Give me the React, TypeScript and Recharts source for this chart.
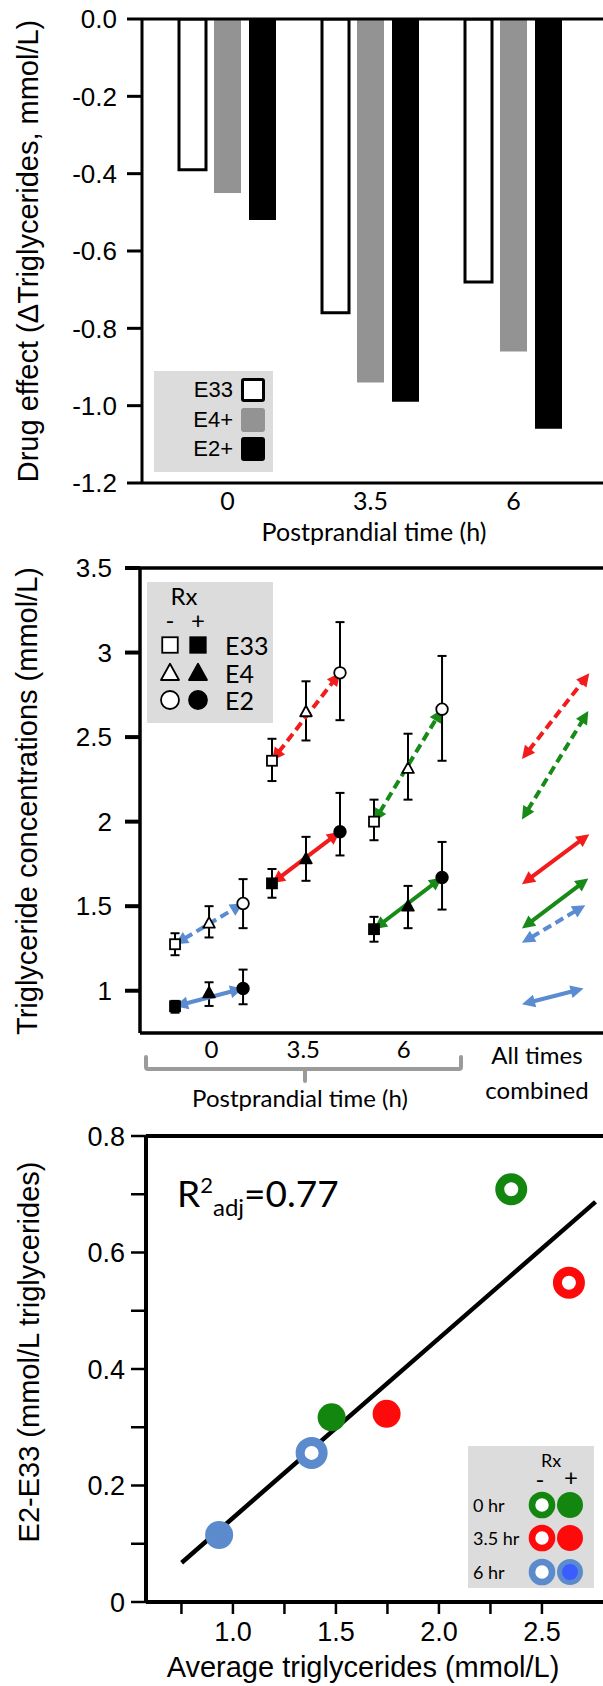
import React from "react";
import {
    BarChart,
    Bar,
    ScatterChart,
    Scatter,
    XAxis,
    YAxis,
    ReferenceLine,
    ErrorBar,
} from "recharts";

// fonts
const HELV = '"Liberation Sans", Arial, sans-serif';
const GILL = 'Lato, "Open Sans", sans-serif';

const RED = "#f31c1c";
const GREEN = "#178a17";
const BLUE = "#5b8bd0";

// ---------- panel 1: drug effect ----------
const timeLabels = ["0", "3.5", "6"];
const effectE33 = [-0.39, -0.76, -0.68];
const effectE4 = [-0.45, -0.94, -0.86];
const effectE2 = [-0.52, -0.99, -1.06];
const effectTicks = [0, -0.2, -0.4, -0.6, -0.8, -1.0, -1.2];

// ---------- panel 2: triglyceride concentrations ----------
const groupStartX = [1.03, 3.88, 6.88]; // x slot of E33 within each time group
const timeLabelX = [2.1, 4.8, 7.75];
const timeSepX = [3.57, 6.0, 9.38];
const tgTicks = [1, 1.5, 2, 2.5, 3, 3.5];
const timeColors = [BLUE, RED, GREEN];

const e33Minus = [1.275, 2.36, 2.0];
const e33MinusLo = [1.21, 2.24, 1.89];
const e33MinusHi = [1.34, 2.49, 2.13];
const e4Minus = [1.4, 2.65, 2.315];
const e4MinusLo = [1.315, 2.48, 2.13];
const e4MinusHi = [1.5, 2.83, 2.52];
const e2Minus = [1.516, 2.88, 2.665];
const e2MinusLo = [1.37, 2.6, 2.36];
const e2MinusHi = [1.66, 3.18, 2.98];

const e33Plus = [0.908, 1.635, 1.364];
const e33PlusLo = [0.87, 1.55, 1.29];
const e33PlusHi = [0.94, 1.72, 1.437];
const e4Plus = [0.987, 1.78, 1.5];
const e4PlusLo = [0.91, 1.65, 1.37];
const e4PlusHi = [1.05, 1.91, 1.62];
const e2Plus = [1.013, 1.94, 1.67];
const e2PlusLo = [0.92, 1.8, 1.48];
const e2PlusHi = [1.125, 2.17, 1.88];

// "All times combined" arrows
const combinedStartX = 11.23;
const combinedEndX = [13.21, 13.18, 13.21, 13.18, 13.09, 13.04];
const combinedFrom = [2.37, 2.013, 1.63, 1.368, 1.283, 0.92];
const combinedTo = [2.877, 2.654, 1.926, 1.664, 1.506, 1.013];
const combinedColor = [RED, GREEN, RED, GREEN, BLUE, BLUE];
const combinedDashed = [true, true, false, false, true, false];

// ---------- panel 3: E2-E33 vs average ----------
const avgTg = [2.351, 1.479, 2.631, 1.746, 1.382, 0.933];
const e2e33Diff = [0.7085, 0.317, 0.548, 0.323, 0.256, 0.115];
const pointTime = ["0 hr", "0 hr", "3.5 hr", "3.5 hr", "6 hr", "6 hr"];
const pointRx = ["-", "+", "-", "+", "-", "+"];
const fitX = [0.751, 2.76];
const fitY = [0.0675, 0.687];
const avgTicks = [0.75, 1, 1.25, 1.5, 1.75, 2, 2.25, 2.5];
const diffTicks = [0, 0.1, 0.2, 0.3, 0.4, 0.5, 0.6, 0.7, 0.8];

const panel3Colors: Record<string, string> = {"0 hr": "#12860f", "3.5 hr": "#ff0a0a", "6 hr": "#5b8bcc"};

// ---------- helpers ----------
const Txt = ({x, y, size, family = HELV, rotate = false, anchor = "middle", children, style}: any) => (
    <div
        style={{
            position: "absolute",
            left: x,
            top: y,
            fontSize: size,
            fontFamily: family,
            lineHeight: 1,
            whiteSpace: "nowrap",
            color: "#000",
            transform: `translate(${anchor === "start" ? "0" : anchor === "end" ? "-100%" : "-50%"}, -50%)${rotate ? " rotate(-90deg)" : ""}`,
            ...style,
        }}
    >
        {children}
    </div>
);

const arrowShape = (color: string, dashed: boolean) => (props: any) => {
    const {x1, y1, x2, y2} = props;
    const dx = x2 - x1;
    const dy = y2 - y1;
    const len = Math.hypot(dx, dy) || 1;
    const ux = dx / len;
    const uy = dy / len;
    const head = 13;
    const half = 6.5;
    const px = -uy;
    const py = ux;
    const b1x = x1 + ux * head, b1y = y1 + uy * head;
    const b2x = x2 - ux * head, b2y = y2 - uy * head;
    return (
        <g>
            <line x1={b1x - ux * 2} y1={b1y - uy * 2} x2={b2x + ux * 2} y2={b2y + uy * 2}
                  stroke={color} strokeWidth={4} strokeDasharray={dashed ? "9 5" : undefined}/>
            <polygon points={`${x1},${y1} ${b1x + px * half},${b1y + py * half} ${b1x - px * half},${b1y - py * half}`}
                     fill={color}/>
            <polygon points={`${x2},${y2} ${b2x + px * half},${b2y + py * half} ${b2x - px * half},${b2y - py * half}`}
                     fill={color}/>
        </g>
    );
};

const markerShape = (kind: string, filled: boolean, s = 1) => (props: any) => {
    const {cx, cy} = props;
    if (cx == null || cy == null) return <g/>;
    const fill = filled ? "#000" : "#fff";
    if (kind === "E33") {
        return <rect x={cx - 5 * s} y={cy - 5 * s} width={10 * s} height={10 * s} fill={fill} stroke="#000" strokeWidth={1.8}/>;
    }
    if (kind === "E4") {
        return (
            <polygon
                points={`${cx},${cy - 6 * s} ${cx + 5.8 * s},${cy + 4.5 * s} ${cx - 5.8 * s},${cy + 4.5 * s}`}
                fill={fill} stroke="#000" strokeWidth={1.8} strokeLinejoin="round"
            />
        );
    }
    return <circle cx={cx} cy={cy} r={5.8 * s} fill={fill} stroke="#000" strokeWidth={1.8}/>;
};

// ---------- panel 1 ----------
function EffectPanel() {
    const data = timeLabels.map((t, i) => ({time: t, e33: effectE33[i], e4: effectE4[i], e2: effectE2[i]}));
    return (
        <BarChart width={640} height={540} data={data} margin={{top: 19, right: 0, bottom: 55, left: 0}}
                  barSize={27} barGap={8}>
            <XAxis xAxisId="cat" dataKey="time" height={1} padding={{left: 14, right: 55}}
                   axisLine={{stroke: "#000", strokeWidth: 3}} tickLine={false} tickSize={0} tickMargin={9}
                   interval={0} tick={{fontFamily: GILL, fontSize: 25, fill: "#000"}}/>
            <XAxis xAxisId="sep" type="number" domain={[0, 3]} ticks={[1, 2]} allowDataOverflow height={1}
                   padding={{left: 14, right: 55}} axisLine={false} tick={false} tickSize={11}
                   tickLine={{stroke: "#000", strokeWidth: 3}}/>
            <YAxis domain={[-1.2, 0]} ticks={effectTicks} width={142} allowDataOverflow
                   axisLine={{stroke: "#000", strokeWidth: 3}} tickLine={{stroke: "#000", strokeWidth: 3}}
                   tickSize={15} tickMargin={10} tickFormatter={(v: number) => v.toFixed(1)}
                   tick={{fontFamily: HELV, fontSize: 26, fill: "#000"}}/>
            <ReferenceLine xAxisId="cat" y={0} stroke="#000" strokeWidth={3}/>
            <Bar xAxisId="cat" dataKey="e33" fill="#fff" stroke="#000" strokeWidth={3} isAnimationActive={false}/>
            <Bar xAxisId="cat" dataKey="e4" fill="#939393" isAnimationActive={false}/>
            <Bar xAxisId="cat" dataKey="e2" fill="#000" isAnimationActive={false}/>
        </BarChart>
    );
}

// ---------- panel 2 ----------
const tgSeries = [
    {kind: "E33", filled: false, offset: 0, mean: e33Minus, lo: e33MinusLo, hi: e33MinusHi},
    {kind: "E4", filled: false, offset: 1, mean: e4Minus, lo: e4MinusLo, hi: e4MinusHi},
    {kind: "E2", filled: false, offset: 2, mean: e2Minus, lo: e2MinusLo, hi: e2MinusHi},
    {kind: "E33", filled: true, offset: 0, mean: e33Plus, lo: e33PlusLo, hi: e33PlusHi},
    {kind: "E4", filled: true, offset: 1, mean: e4Plus, lo: e4PlusLo, hi: e4PlusHi},
    {kind: "E2", filled: true, offset: 2, mean: e2Plus, lo: e2PlusLo, hi: e2PlusHi},
];

function ConcentrationPanel() {
    return (
        <ScatterChart width={640} height={545} margin={{top: 28, right: 0, bottom: 50, left: 0}}>
            <XAxis xAxisId="grp" type="number" dataKey="x" domain={[0, 14.7]} allowDataOverflow ticks={timeLabelX}
                   tickFormatter={(_v: number, i: number) => timeLabels[i]} height={1}
                   axisLine={{stroke: "#000", strokeWidth: 3.5}} tickLine={false} tickSize={0} tickMargin={8}
                   interval={0} tick={{fontFamily: GILL, fontSize: 24, fill: "#000"}}/>
            <XAxis xAxisId="sep" type="number" domain={[0, 14.7]} allowDataOverflow ticks={timeSepX} height={1}
                   axisLine={false} tick={false} tickSize={10} tickLine={{stroke: "#000", strokeWidth: 2.5}}/>
            <YAxis type="number" dataKey="y" domain={[0.75, 3.5]} allowDataOverflow ticks={tgTicks} width={140}
                   axisLine={{stroke: "#000", strokeWidth: 3.5}} tickLine={{stroke: "#000", strokeWidth: 4}}
                   tickSize={15} tickMargin={13} tickFormatter={(v: number) => String(v)}
                   tick={{fontFamily: HELV, fontSize: 26, fill: "#000"}}/>
            <ReferenceLine xAxisId="grp" y={3.5} stroke="#000" strokeWidth={3.5}/>
            {tgSeries.map((s, si) => (
                <Scatter
                    key={si}
                    xAxisId="grp"
                    data={s.mean.map((m, i) => ({
                        x: groupStartX[i] + s.offset,
                        y: m,
                        err: [m - s.lo[i], s.hi[i] - m],
                    }))}
                    shape={markerShape(s.kind, s.filled)}
                    isAnimationActive={false}
                >
                    <ErrorBar dataKey="err" direction="y" width={4.5} stroke="#000" strokeWidth={2}/>
                </Scatter>
            ))}
            {timeLabels.map((_t, i) => (
                <ReferenceLine key={`m${i}`} xAxisId="grp"
                               segment={[{x: groupStartX[i], y: e33Minus[i]}, {x: groupStartX[i] + 2, y: e2Minus[i]}]}
                               shape={arrowShape(timeColors[i], true)}/>
            ))}
            {timeLabels.map((_t, i) => (
                <ReferenceLine key={`p${i}`} xAxisId="grp"
                               segment={[{x: groupStartX[i], y: e33Plus[i]}, {x: groupStartX[i] + 2, y: e2Plus[i]}]}
                               shape={arrowShape(timeColors[i], false)}/>
            ))}
            {combinedFrom.map((f, i) => (
                <ReferenceLine key={`c${i}`} xAxisId="grp"
                               segment={[{x: combinedStartX, y: f}, {x: combinedEndX[i], y: combinedTo[i]}]}
                               shape={arrowShape(combinedColor[i], combinedDashed[i])}/>
            ))}
        </ScatterChart>
    );
}

// ---------- panel 3 ----------
const Dot = (props: any) => {
    const {cx, cy, payload} = props;
    if (cx == null || cy == null) return <g/>;
    const color = panel3Colors[payload.time];
    if (payload.rx === "-") {
        return <circle cx={cx} cy={cy} r={11.5} fill="#fff" stroke={color} strokeWidth={9}/>;
    }
    return <circle cx={cx} cy={cy} r={14} fill={color}/>;
};

function DifferencePanel() {
    const data = avgTg.map((x, i) => ({x, y: e2e33Diff[i], time: pointTime[i], rx: pointRx[i]}));
    return (
        <ScatterChart width={640} height={586} margin={{top: 36, right: 0, bottom: 83, left: 0}}>
            <XAxis type="number" dataKey="x" domain={[0.578, 2.976]} allowDataOverflow ticks={avgTicks} interval={0}
                   tickFormatter={(v: number) => (Math.round(v * 4) % 2 === 0 ? v.toFixed(1) : "")} height={1}
                   axisLine={{stroke: "#000", strokeWidth: 4}} tickLine={{stroke: "#000", strokeWidth: 2.5}}
                   tickSize={12} tickMargin={8} tick={{fontFamily: HELV, fontSize: 27, fill: "#000"}}/>
            <YAxis type="number" dataKey="y" domain={[0, 0.8]} allowDataOverflow ticks={diffTicks} width={146}
                   interval={0}
                   tickFormatter={(v: number) => (v === 0 ? "0" : Math.round(v * 10) % 2 === 0 ? v.toFixed(1) : "")}
                   axisLine={{stroke: "#000", strokeWidth: 4}} tickLine={{stroke: "#000", strokeWidth: 2.5}}
                   tickSize={15} tickMargin={6} tick={{fontFamily: HELV, fontSize: 27, fill: "#000"}}/>
            <ReferenceLine y={0.8} stroke="#000" strokeWidth={4}/>
            <ReferenceLine segment={[{x: fitX[0], y: fitY[0]}, {x: fitX[1], y: fitY[1]}]} stroke="#000"
                           strokeWidth={4.5}/>
            <Scatter data={data} shape={Dot} isAnimationActive={false}/>
        </ScatterChart>
    );
}

// ---------- legends ----------
const LegendSvgMarker = ({kind, filled}: any) => (
    <svg width={22} height={22} style={{display: "block"}}>
        {markerShape(kind, filled, 1.55)({cx: 11, cy: 11})}
    </svg>
);

const RingDot = ({color, open, inner}: any) => (
    <svg width={28} height={28} style={{display: "block"}}>
        {open
            ? <circle cx={14} cy={14} r={10} fill="#fff" stroke={color} strokeWidth={6.6}/>
            : inner
                ? <circle cx={14} cy={14} r={10.5} fill={inner} stroke={color} strokeWidth={5}/>
                : <circle cx={14} cy={14} r={13} fill={color}/>}
    </svg>
);

export default function App() {
    const box = {position: "absolute" as const, background: "#dcdcdc"};
    return (
        <div style={{position: "absolute", left: 0, top: 0, width: 603, height: 1686, overflow: "hidden", background: "#fff"}}>
            <div style={{position: "absolute", left: 0, top: 0}}><EffectPanel/></div>
            <div style={{position: "absolute", left: 0, top: 540}}><ConcentrationPanel/></div>
            <div style={{position: "absolute", left: 0, top: 1100}}><DifferencePanel/></div>

            {/* panel 1 titles + legend */}
            <Txt x={28} y={251} size={29} rotate>Drug effect (ΔTriglycerides, mmol/L)</Txt>
            <Txt x={374} y={531} size={25} family={GILL}>Postprandial time (h)</Txt>
            <div style={{...box, left: 154, top: 371, width: 119, height: 101}}>
                {[
                    {label: "E33", fill: "#fff", border: "3px solid #000"},
                    {label: "E4+", fill: "#939393", border: "none"},
                    {label: "E2+", fill: "#000", border: "none"},
                ].map((r, i) => (
                    <React.Fragment key={r.label}>
                        <Txt x={79} y={19 + i * 29.5} size={22} anchor="end">{r.label}</Txt>
                        <div style={{
                            position: "absolute", left: 87, top: 7 + i * 29.5, width: 24, height: 24,
                            boxSizing: "border-box", background: r.fill, border: r.border, borderRadius: 3,
                        }}/>
                    </React.Fragment>
                ))}
            </div>

            {/* panel 2 titles + legend */}
            <Txt x={27} y={801} size={29} rotate>Triglyceride concentrations (mmol/L)</Txt>
            <Txt x={537} y={1055} size={24} family={GILL}>All times</Txt>
            <Txt x={537} y={1090} size={24} family={GILL}>combined</Txt>
            <Txt x={300} y={1098} size={24} family={GILL}>Postprandial time (h)</Txt>
            <svg style={{position: "absolute", left: 0, top: 1050}} width={603} height={40}>
                <path d="M146 7 L146 17 Q146 19 148 19 L459 19 Q461 19 461 17 L461 7 M305 19 L305 31"
                      fill="none" stroke="#9b9b9b" strokeWidth={4} strokeLinecap="round"/>
            </svg>
            <div style={{...box, left: 147, top: 582, width: 126, height: 141}}>
                <Txt x={37} y={14} size={24} family={GILL}>Rx</Txt>
                <Txt x={23} y={38} size={24} family={GILL}>-</Txt>
                <Txt x={51} y={38} size={24} family={GILL}>+</Txt>
                {["E33", "E4", "E2"].map((k, i) => (
                    <React.Fragment key={k}>
                        <div style={{position: "absolute", left: 12, top: 52 + i * 27.5}}>
                            <LegendSvgMarker kind={k} filled={false}/>
                        </div>
                        <div style={{position: "absolute", left: 40, top: 52 + i * 27.5}}>
                            <LegendSvgMarker kind={k} filled/>
                        </div>
                        <Txt x={78} y={63 + i * 27.5} size={25} family={GILL} anchor="start">{k}</Txt>
                    </React.Fragment>
                ))}
            </div>

            {/* panel 3 titles + legend */}
            <Txt x={29} y={1352} size={29} rotate>E2-E33 (mmol/L triglycerides)</Txt>
            <Txt x={363} y={1667} size={29}>Average triglycerides (mmol/L)</Txt>
            <div style={{position: "absolute", left: 177, top: 1174, fontFamily: GILL, fontSize: 37, lineHeight: "37px", whiteSpace: "nowrap"}}>
                R<span style={{fontSize: 22, position: "relative", top: -14}}>2</span>
                <span style={{fontSize: 24, position: "relative", top: 9}}>adj</span>=0.77
            </div>
            <div style={{...box, left: 468, top: 1446, width: 126, height: 142}}>
                <Txt x={83} y={14} size={18} family={GILL}>Rx</Txt>
                <Txt x={72} y={33} size={24} family={GILL}>-</Txt>
                <Txt x={103} y={31} size={24} family={GILL}>+</Txt>
                {["0 hr", "3.5 hr", "6 hr"].map((t, i) => (
                    <React.Fragment key={t}>
                        <Txt x={5} y={59 + i * 33.3} size={18} family={GILL} anchor="start">{t}</Txt>
                        <div style={{position: "absolute", left: 60, top: 45 + i * 33.3}}>
                            <RingDot color={panel3Colors[t]} open/>
                        </div>
                        <div style={{position: "absolute", left: 88, top: 45 + i * 33.3}}>
                            <RingDot color={panel3Colors[t]} inner={t === "6 hr" ? "#3b5cff" : undefined}/>
                        </div>
                    </React.Fragment>
                ))}
            </div>
        </div>
    );
}
